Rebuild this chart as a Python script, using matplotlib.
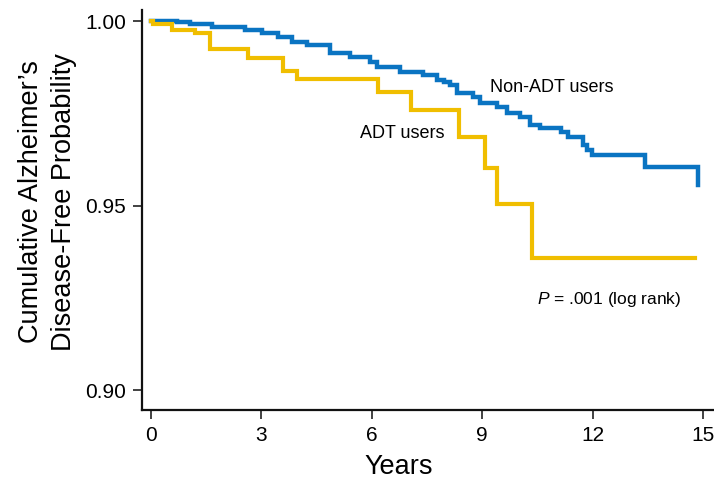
import matplotlib.pyplot as plt

plt.rcParams['mathtext.fontset'] = 'custom'
plt.rcParams['mathtext.rm'] = 'Liberation Sans'
plt.rcParams['mathtext.it'] = 'Liberation Sans:italic'

# step times (years) and survival values
adt_t = [0, 0.05, 0.57, 1.20, 1.60, 2.64, 3.59, 3.97, 6.17, 7.07, 8.37, 9.08, 9.40, 10.35, 14.78]
adt_s = [1.0, 0.9992, 0.9976, 0.9968, 0.9924, 0.9900, 0.9865, 0.9843, 0.9808, 0.9759,
         0.9686, 0.9602, 0.9505, 0.9358, 0.9358]

non_t = [0, 0.71, 1.05, 1.66, 2.55, 3.01, 3.45, 3.83, 4.24, 4.87, 5.41, 5.95, 6.14,
         6.76, 7.39, 7.77, 7.96, 8.12, 8.32, 8.75, 8.94, 9.40, 9.67, 10.03, 10.30, 10.57,
         11.14, 11.33, 11.74, 11.85, 11.98, 13.43, 14.86, 14.86]
non_s = [1.0, 0.9997, 0.9992, 0.9984, 0.9976, 0.9968, 0.9957, 0.9943, 0.9935, 0.9913,
         0.9903, 0.9889, 0.9875, 0.9862, 0.9854, 0.9840, 0.9835, 0.9827, 0.9805, 0.9794,
         0.9778, 0.9767, 0.9751, 0.9740, 0.9718, 0.9710, 0.9700, 0.9686, 0.9664, 0.9651,
         0.9637, 0.9605, 0.9605, 0.9556]

xticks = [0, 3, 6, 9, 12, 15]
yticks = [0.90, 0.95, 1.00]

font = ['Liberation Sans', 'DejaVu Sans']

fig = plt.figure(figsize=(7.14, 4.79), dpi=100)
ax = fig.add_axes([0.1985, 0.144, 0.80, 0.835])

ax.step(non_t, non_s, where='post', color='#0a74c2', lw=3.2, solid_joinstyle='miter')
ax.step(adt_t, adt_s, where='post', color='#f0be00', lw=3.0, solid_joinstyle='miter')

ax.set_xlim(-0.25, 15.27)
ax.set_ylim(0.8947, 1.003)
ax.set_xticks(xticks)
ax.set_xticklabels([str(t) for t in xticks], family=font, fontsize=15)
ax.set_yticks(yticks)
ax.set_yticklabels(['%.2f' % t for t in yticks], family=font, fontsize=15)
ax.tick_params(length=6.5, width=1.2, color='#222222', pad=5)

for s in ['top', 'right']:
    ax.spines[s].set_visible(False)
for s in ['left', 'bottom']:
    ax.spines[s].set_linewidth(1.6)
    ax.spines[s].set_color('#111111')

ax.set_xlabel('Years', family=font, fontsize=19.5)
ax.xaxis.set_label_coords(0.45, -0.11)
ax.set_ylabel('Cumulative Alzheimer\u2019s\nDisease-Free Probability', family=font,
              fontsize=19.5, linespacing=1.35)
ax.yaxis.set_label_coords(-0.113, 0.52)

ax.text(9.21, 0.9819, 'Non-ADT users', family=font, fontsize=13, va='center')
ax.text(5.68, 0.9697, 'ADT users', family=font, fontsize=13, va='center')
ax.text(10.49, 0.9245, r'$P$ = .001 (log rank)', family=font, fontsize=12.5,
        va='center')

fig.savefig('out.png', dpi=100)
